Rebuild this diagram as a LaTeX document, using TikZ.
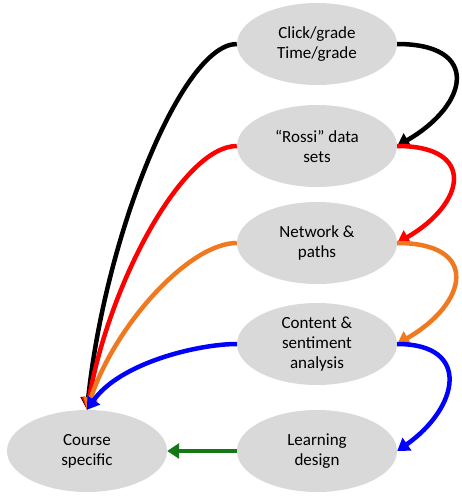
\documentclass[tikz,border=0pt]{standalone}
\usepackage{fontspec}
\setmainfont{Carlito}
\usetikzlibrary{arrows.meta,positioning,shapes.geometric}
\definecolor{bubblegray}{RGB}{217,217,217}
\definecolor{linkorange}{RGB}{240,120,30}
\definecolor{linkgreen}{RGB}{20,120,20}
\tikzset{
  bubble/.style={ellipse, fill=bubblegray, minimum width=160pt, minimum height=82pt,
    align=center, font=\fontsize{17}{20}\selectfont, inner sep=0pt},
  link/.style={line width=4.5pt, -{Triangle[length=12pt,width=15pt]}}
}
\begin{document}
\begin{tikzpicture}[x=1pt, y=-1pt]
  \useasboundingbox (0,0) rectangle (462,499);
  % Bubbles
  \node[bubble] (click)   at (317, 44)  {Click/grade\\Time/grade};
  \node[bubble] (rossi)   at (317, 146) {“Rossi” data\\sets};
  \node[bubble] (network) at (317, 243) {Network \&\\paths};
  \node[bubble] (content) at (317, 344) {Content \&\\sentiment\\analysis};
  \node[bubble] (learn)   at (317, 451) {Learning\\design};
  \node[bubble] (course)  at (87, 451)  {Course\\specific};

  % Chain on the right
  \draw[link, black] (click.east) to[out=0, in=30, looseness=2.1] (rossi.east);
  \draw[link, red] (rossi.east) to[out=0, in=30, looseness=2.1] (network.east);
  \draw[link, linkorange] (network.east) to[out=0, in=30, looseness=2.1] (content.east);
  \draw[link, blue] (content.east) to[out=0, in=35, looseness=1.8] (learn.east);

  % Links into the course
  \draw[link, black] (click.west) to[out=180, in=84, out looseness=0.35, in looseness=1.15] (course.north);
  \draw[link, red] (rossi.west) to[out=180, in=80, out looseness=0.45, in looseness=1.1] (course.north);
  \draw[link, linkorange] (network.west) to[out=180, in=72, out looseness=0.55, in looseness=1] (course.north);
  \draw[link, blue] (content.west) to[out=180, in=55, out looseness=0.6, in looseness=0.9] (course.north);
  \draw[link, linkgreen] (learn.west) -- (course.east);
\end{tikzpicture}
\end{document}
